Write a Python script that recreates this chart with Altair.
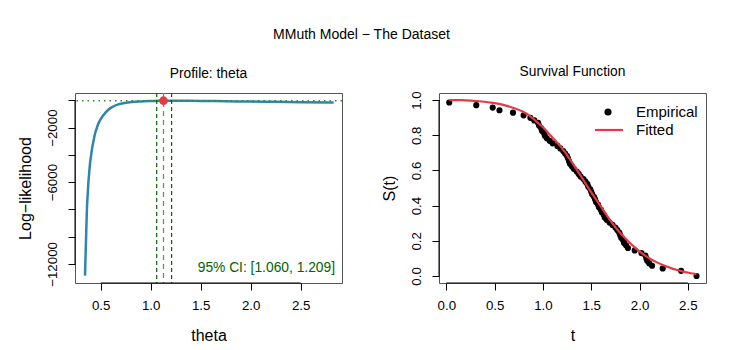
import altair as alt
import pandas as pd

# ---- Profile likelihood data ----
theta = [0.343, 0.348, 0.353, 0.358, 0.363, 0.370, 0.376, 0.385, 0.393, 0.405,
         0.416, 0.430, 0.443, 0.460, 0.476, 0.500, 0.526, 0.550, 0.576, 0.620,
         0.676, 0.740, 0.810, 0.900, 1.043, 1.128, 1.250, 1.500, 1.750, 2.000,
         2.250, 2.500, 2.830]
loglik = [-12860, -11500, -10290, -9000, -7840, -6900, -6120, -5300, -4650, -3980,
          -3430, -2900, -2450, -2050, -1710, -1380, -1100, -880, -685, -470,
          -295, -190, -125, -80, -45, -25, -30, -45, -65, -90,
          -110, -130, -150]
mle_theta = [1.128]
mle_loglik = [-25]
ci_bounds = [1.060, 1.209]
cutoff = [-27]
ci_label = ["95% CI: [1.060, 1.209]"]

# ---- Survival data ----
t_emp = [0.03, 0.31, 0.48, 0.55, 0.69, 0.80, 0.87, 0.91, 0.95, 0.96,
         0.98, 0.99, 1.01, 1.02, 1.04, 1.07, 1.10, 1.15, 1.18, 1.21,
         1.23, 1.25, 1.26, 1.27, 1.28, 1.30, 1.32, 1.35, 1.37, 1.39,
         1.42, 1.44, 1.46, 1.47, 1.49, 1.50, 1.51, 1.53, 1.54, 1.55,
         1.57, 1.58, 1.60, 1.61, 1.63, 1.64, 1.66, 1.69, 1.72, 1.75,
         1.77, 1.79, 1.80, 1.81, 1.83, 1.84, 1.86, 1.88, 1.95, 2.02,
         2.06, 2.07, 2.08, 2.10, 2.13, 2.24, 2.43, 2.59]
s_emp = [0.986, 0.971, 0.957, 0.942, 0.928, 0.913, 0.899, 0.884, 0.870, 0.855,
         0.841, 0.826, 0.812, 0.797, 0.783, 0.768, 0.754, 0.739, 0.725, 0.710,
         0.696, 0.681, 0.667, 0.652, 0.638, 0.623, 0.609, 0.594, 0.580, 0.565,
         0.551, 0.536, 0.522, 0.507, 0.493, 0.478, 0.464, 0.449, 0.435, 0.420,
         0.406, 0.391, 0.377, 0.362, 0.348, 0.333, 0.319, 0.304, 0.290, 0.275,
         0.261, 0.246, 0.232, 0.217, 0.203, 0.188, 0.174, 0.159, 0.145, 0.130,
         0.116, 0.101, 0.087, 0.072, 0.058, 0.043, 0.029, 0.000]
t_fit = [0.03, 0.15, 0.34, 0.45, 0.58, 0.68, 0.79, 0.86, 0.93, 1.00, 1.06,
         1.13, 1.20, 1.27, 1.34, 1.41, 1.48, 1.55, 1.62, 1.69, 1.75, 1.82,
         1.89, 1.96, 2.03, 2.10, 2.17, 2.24, 2.31, 2.38, 2.44, 2.52, 2.59]
s_fit = [1.000, 0.999, 0.993, 0.986, 0.974, 0.958, 0.935, 0.912, 0.879, 0.845, 0.810,
         0.768, 0.725, 0.671, 0.613, 0.553, 0.492, 0.435, 0.378, 0.322, 0.277, 0.233,
         0.193, 0.158, 0.127, 0.101, 0.080, 0.062, 0.048, 0.035, 0.026, 0.017, 0.011]
legend_labels = ["Empirical", "Fitted"]

FONT = "Liberation Sans"
W, H = 267, 190
BLUE = "#2E86AB"
RED = "#E63946"
DKGREEN = "#006400"

# ================= Left panel =================
xs_l = alt.Scale(domain=[0.243, 2.913], nice=False, zero=False)
ys_l = alt.Scale(domain=[-13400, 540], nice=False, zero=False)
xax_l = alt.Axis(values=[0.5, 1.0, 1.5, 2.0, 2.5], format=".1f", title="theta")
yax_l = alt.Axis(values=[0, -2000, -4000, -6000, -8000, -10000, -12000], format="d",
                 labelExpr="(datum.value == -2000 || datum.value == -6000 || datum.value == -12000) ? datum.label : ''",
                 title="Log\u2212likelihood")

prof = pd.DataFrame({"theta": theta, "loglik": loglik})
curve = alt.Chart(prof).mark_line(color=BLUE, strokeWidth=2.5, interpolate="monotone").encode(
    x=alt.X("theta:Q", scale=xs_l, axis=xax_l),
    y=alt.Y("loglik:Q", scale=ys_l, axis=yax_l),
)

hline = alt.Chart(pd.DataFrame({"y": cutoff})).mark_rule(
    color="#2E8B2E", strokeDash=[1.5, 4], strokeWidth=1.5).encode(
    y=alt.Y("y:Q", scale=ys_l, axis=yax_l))

ci_rules = alt.Chart(pd.DataFrame({"x": ci_bounds})).mark_rule(
    color=DKGREEN, strokeDash=[4, 3], strokeWidth=1.2).encode(
    x=alt.X("x:Q", scale=xs_l, axis=xax_l))

mle_rule = alt.Chart(pd.DataFrame({"x": mle_theta})).mark_rule(
    color="#808080", strokeDash=[5, 4], strokeWidth=1.3).encode(
    x=alt.X("x:Q", scale=xs_l, axis=xax_l))

mle_pt = alt.Chart(pd.DataFrame({"x": mle_theta, "y": mle_loglik})).mark_circle(
    color=RED, size=75, opacity=1).encode(
    x=alt.X("x:Q", scale=xs_l, axis=xax_l),
    y=alt.Y("y:Q", scale=ys_l, axis=yax_l))

ci_text = alt.Chart(pd.DataFrame({"label": ci_label})).mark_text(
    align="right", baseline="middle", fontSize=13.8, font=FONT, color=DKGREEN).encode(
    x=alt.value(W - 7), y=alt.value(175), text="label:N")

xaxis_l = alt.Chart(pd.DataFrame({"a": [0.5], "b": [2.5]})).mark_rule(color="black").encode(
    x=alt.X("a:Q", scale=xs_l, axis=xax_l), x2="b:Q", y=alt.value(H))
yaxis_l = alt.Chart(pd.DataFrame({"a": [-12000], "b": [0]})).mark_rule(color="black").encode(
    y=alt.Y("a:Q", scale=ys_l, axis=yax_l), y2="b:Q", x=alt.value(0))

left = alt.layer(curve, hline, ci_rules, mle_rule, mle_pt, ci_text, xaxis_l, yaxis_l).properties(
    width=W, height=H,
    title=alt.TitleParams("Profile: theta", fontSize=13.8, fontWeight="normal", font=FONT,
                          color="black", offset=12),
)

# ================= Right panel =================
xs_r = alt.Scale(domain=[-0.076, 2.688], nice=False, zero=False)
ys_r = alt.Scale(domain=[-0.04, 1.04], nice=False, zero=False)
xax_r = alt.Axis(values=[0, 0.5, 1.0, 1.5, 2.0, 2.5], format=".1f", title="t")
yax_r = alt.Axis(values=[0, 0.2, 0.4, 0.6, 0.8, 1.0], format=".1f", title="S(t)")

emp = pd.DataFrame({"t": t_emp, "s": s_emp})
fit = pd.DataFrame({"t": t_fit, "s": s_fit})

emp_pts = alt.Chart(emp).mark_circle(color="black", size=38, opacity=1).encode(
    x=alt.X("t:Q", scale=xs_r, axis=xax_r),
    y=alt.Y("s:Q", scale=ys_r, axis=yax_r))

fit_line = alt.Chart(fit).mark_line(color=RED, strokeWidth=2.2, interpolate="monotone").encode(
    x=alt.X("t:Q", scale=xs_r, axis=xax_r),
    y=alt.Y("s:Q", scale=ys_r, axis=yax_r))

xaxis_r = alt.Chart(pd.DataFrame({"a": [0.0], "b": [2.5]})).mark_rule(color="black").encode(
    x=alt.X("a:Q", scale=xs_r, axis=xax_r), x2="b:Q", y=alt.value(H))
yaxis_r = alt.Chart(pd.DataFrame({"a": [0.0], "b": [1.0]})).mark_rule(color="black").encode(
    y=alt.Y("a:Q", scale=ys_r, axis=yax_r), y2="b:Q", x=alt.value(0))

leg_df = pd.DataFrame({"label": legend_labels})
leg_pt = alt.Chart(leg_df.iloc[[0]]).mark_circle(color="black", size=50, opacity=1).encode(
    x=alt.value(169), y=alt.value(19))
leg_line = alt.Chart(leg_df.iloc[[1]]).mark_rule(color=RED, strokeWidth=2.2).encode(
    x=alt.value(156), x2=alt.value(184), y=alt.value(37))
leg_txt1 = alt.Chart(leg_df.iloc[[0]]).mark_text(
    align="left", baseline="middle", fontSize=15, font=FONT, color="black").encode(
    x=alt.value(197), y=alt.value(19), text="label:N")
leg_txt2 = alt.Chart(leg_df.iloc[[1]]).mark_text(
    align="left", baseline="middle", fontSize=15, font=FONT, color="black").encode(
    x=alt.value(197), y=alt.value(37), text="label:N")

right = alt.layer(emp_pts, fit_line, xaxis_r, yaxis_r, leg_pt, leg_line, leg_txt1, leg_txt2).properties(
    width=W, height=H,
    title=alt.TitleParams("Survival Function", fontSize=13.8, fontWeight="normal", font=FONT,
                          color="black", offset=12),
)

chart = alt.hconcat(left, right, spacing=36).properties(
    title=alt.TitleParams("MMuth Model \u2212 The Dataset", fontSize=14, fontWeight="normal",
                          font=FONT, color="black", anchor="middle", offset=22),
    padding={"left": 8, "top": 20, "right": 5, "bottom": 5},
    background="white",
).configure_view(
    stroke="#555555", strokeWidth=1
).configure_axis(
    domain=False, grid=False, ticks=True, tickColor="black", tickSize=7, tickWidth=1,
    labelFont=FONT, labelFontSize=13.3, labelColor="black", labelPadding=8,
    titleFont=FONT, titleFontSize=16, titleFontWeight="normal", titleColor="black",
).configure_axisY(
    labelAngle=-90, labelPadding=9, titlePadding=12,
).configure_axisX(
    titlePadding=16,
)

chart.save("out.html", embed_options={"renderer": "svg", "actions": False})
